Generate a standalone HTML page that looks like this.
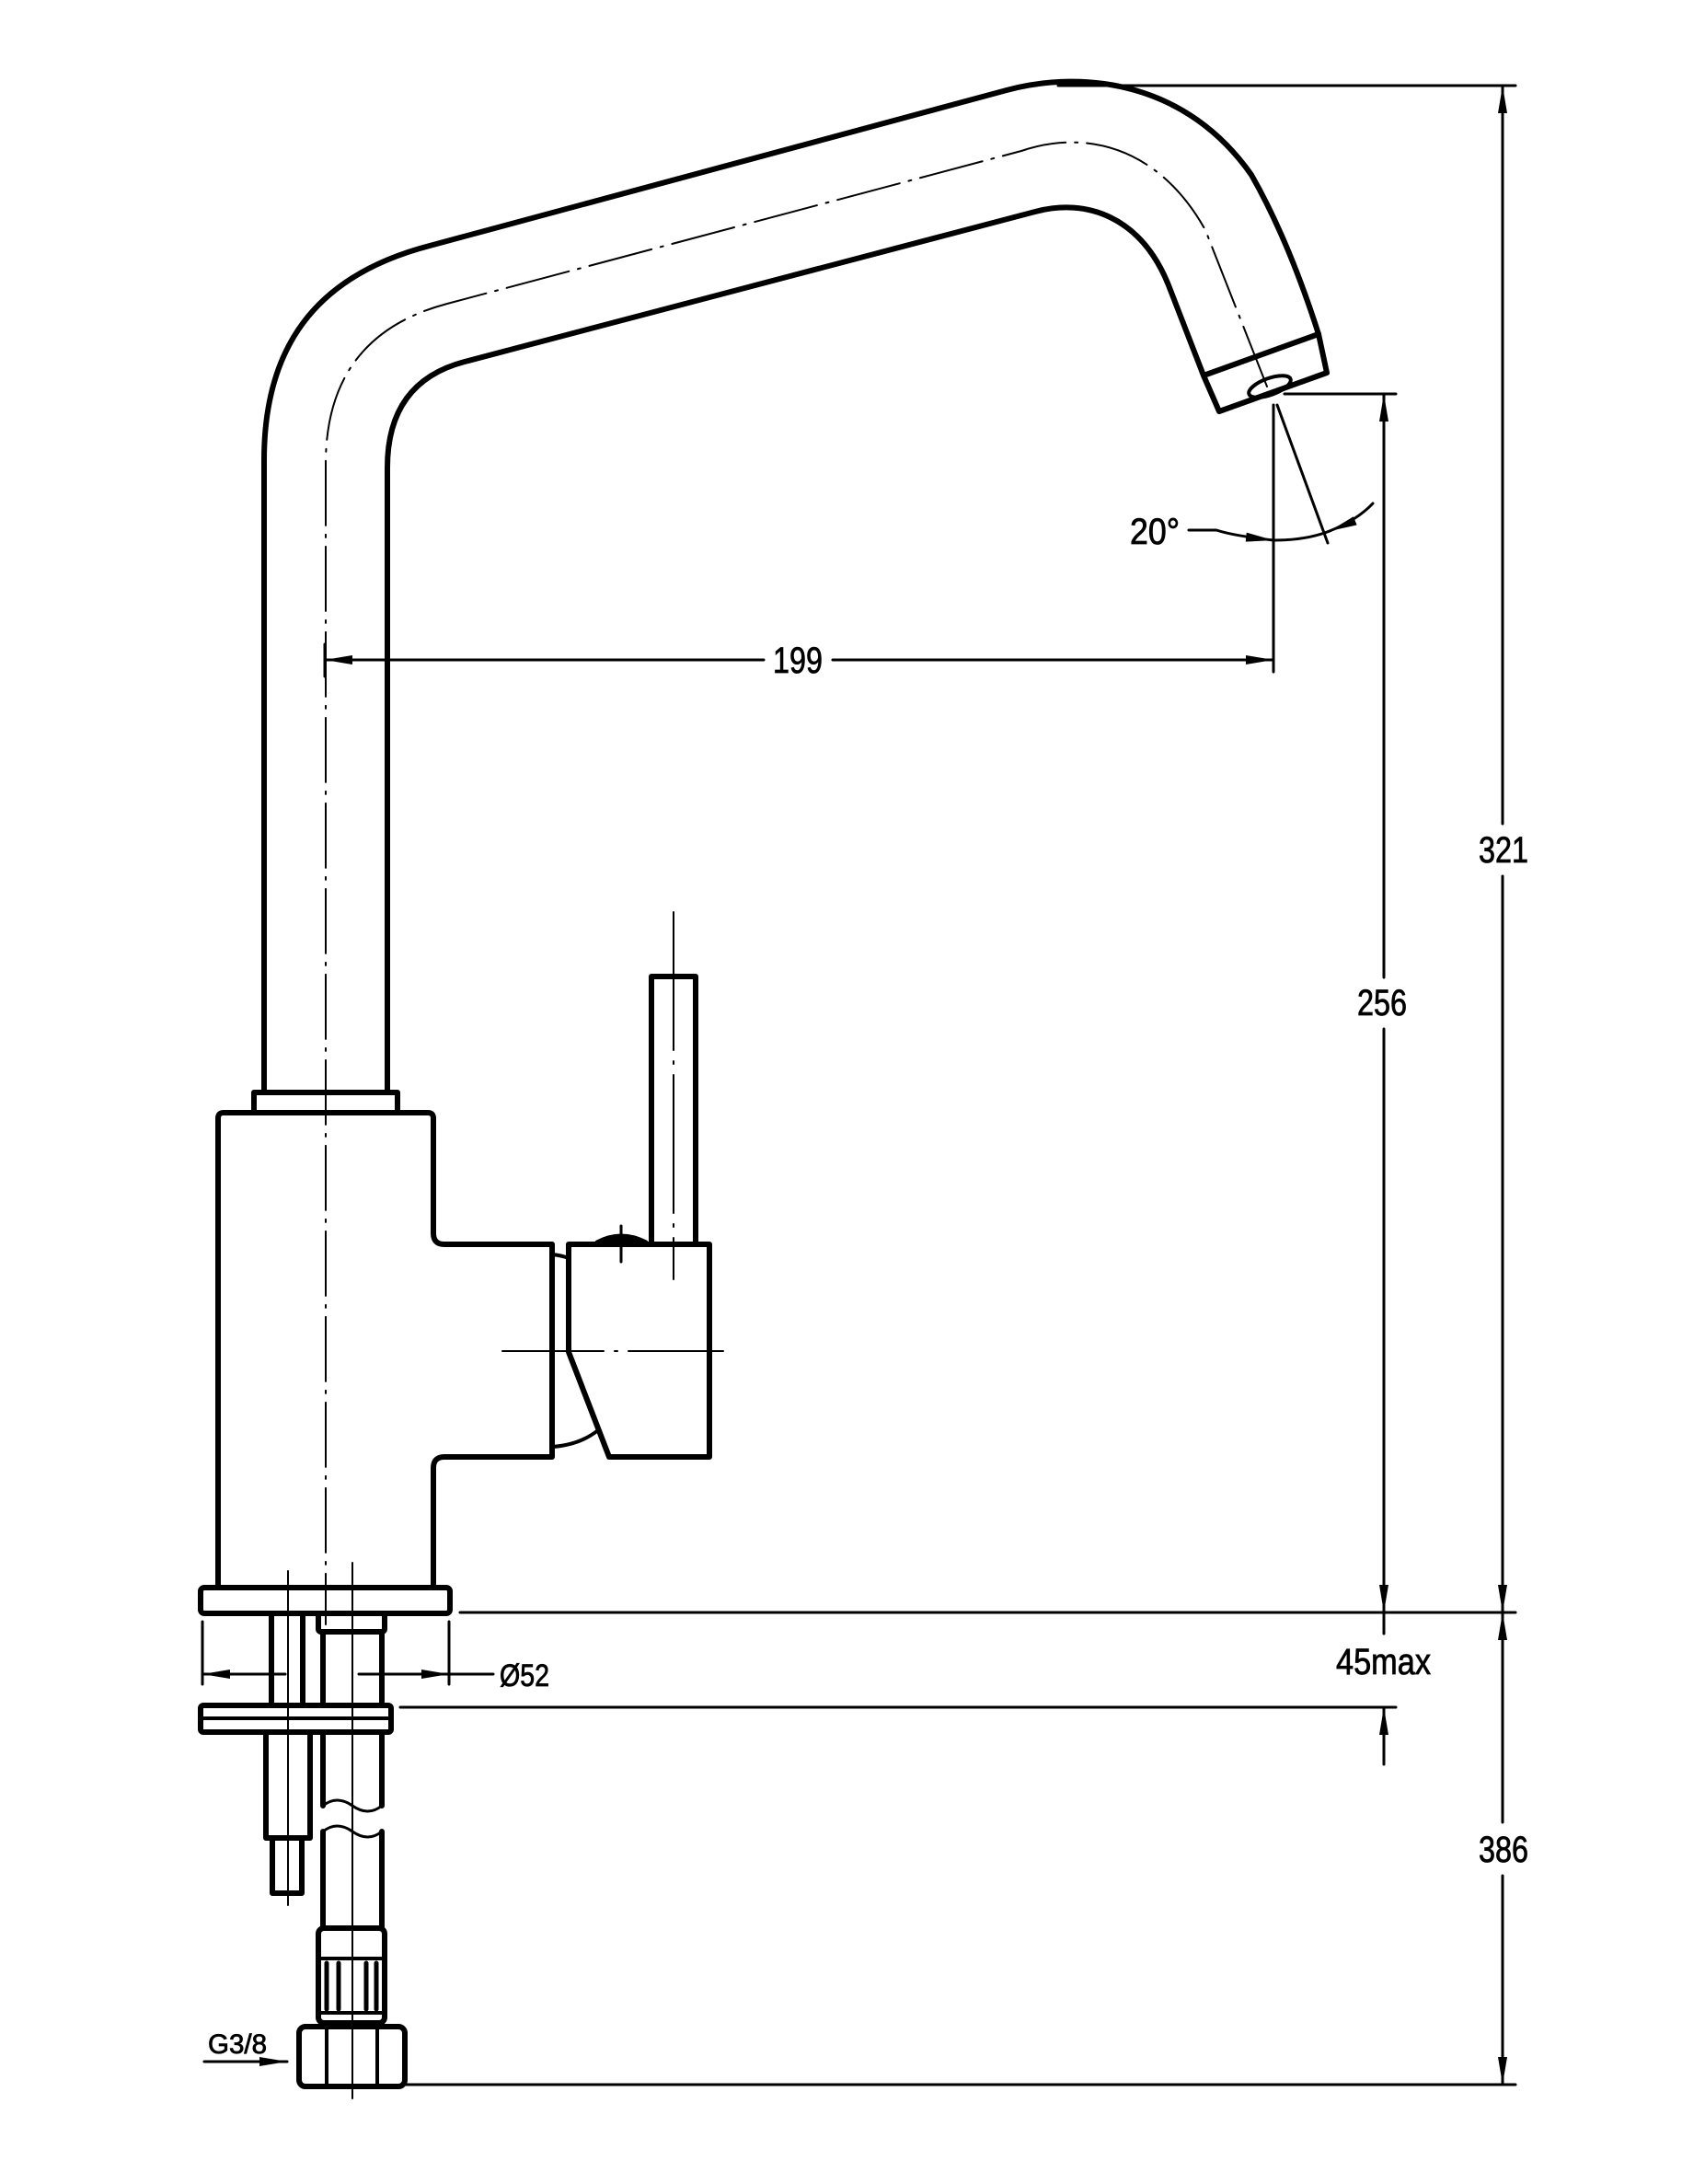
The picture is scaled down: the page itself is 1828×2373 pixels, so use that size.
<!DOCTYPE html>
<html><head><meta charset="utf-8"><style>
html,body{margin:0;padding:0;background:#fff}
svg{display:block}
text{font-family:"Liberation Sans",sans-serif;fill:#000}
</style></head><body>
<svg width="1828" height="2373" viewBox="0 0 1828 2373" xmlns="http://www.w3.org/2000/svg">
<defs>
<marker id="a" viewBox="0 0 30 10" refX="30" refY="5" markerWidth="30" markerHeight="10" markerUnits="userSpaceOnUse" orient="auto-start-reverse">
<path d="M0,0 L30,5 L0,10 Z" fill="#000"/></marker>
</defs>
<g fill="none" stroke="#000" stroke-linejoin="round" stroke-linecap="round">
<path stroke-width="6" d="M287,1187 L287,500 C287,380 340,300 467,267 L1094,98 C1180,75 1290,90 1360,190 Q1400,260 1433,363"/>
<path stroke-width="6" d="M421,1187 L421,508 Q421,415 505,393 L1125,230 C1180,215 1240,235 1270,310 L1308,408"/>
<path stroke-width="6" d="M1308,408 L1433,363 L1442,405 L1325,447 Z"/>
<ellipse cx="1380" cy="420" rx="24" ry="9" transform="rotate(-20 1380 420)" stroke-width="4"/>
<path stroke-width="2" stroke-dasharray="70,10,3,10" d="M1377,420 L1310,250 C1260,160 1180,140 1110,164 L486,330 Q354,365 354,504 L354,1765"/>
<rect x="276" y="1187" width="156" height="22" stroke-width="6"/>
<path stroke-width="6" d="M237,1725 L237,1215 Q237,1209 243,1209 L465,1209 Q471,1209 471,1215 L471,1340 Q471,1352 483,1352 L600,1352 L600,1583 L483,1583 Q471,1583 471,1595 L471,1725"/>
<path stroke-width="4" d="M600,1363 Q610,1364 618,1367"/>
<path stroke-width="4" d="M600,1572 Q630,1570 650,1554"/>
<path stroke-width="6" d="M618,1352 L618,1469 L662,1583 L771,1583 L771,1352 Z"/>
<path stroke-width="5" fill="#000" d="M649,1350 Q675,1336 702,1350 Z"/>
<line x1="675" y1="1332" x2="675" y2="1371" stroke-width="3"/>
<rect x="708" y="1061" width="48" height="291" stroke-width="6"/>
<line x1="732" y1="991" x2="732" y2="1390" stroke-width="2" stroke-dasharray="150,12,3,12"/>
<line x1="546" y1="1468" x2="786" y2="1468" stroke-width="2" stroke-dasharray="110,12,3,12"/>
<rect x="218" y="1725" width="271" height="28" rx="4" stroke-width="6"/>
<rect x="346" y="1753" width="72" height="20" rx="3" stroke-width="6"/>
<rect x="218" y="1853" width="207" height="29" rx="3" stroke-width="6"/>
<line x1="218" y1="1867" x2="425" y2="1867" stroke-width="4"/>
<path stroke-width="6" d="M295,1753 L295,1853 M329,1753 L329,1853"/>
<path stroke-width="6" d="M289,1882 L289,1997 L337,1997 L337,1882"/>
<path stroke-width="6" d="M296,1997 L296,2057 L328,2057 L328,1997"/>
<line x1="313" y1="1707" x2="313" y2="2070" stroke-width="2"/>
<path stroke-width="6" d="M351,1773 L351,1853 M415,1773 L415,1853"/>
<path stroke-width="6" d="M351,1882 L351,1962 M415,1882 L415,1962 M351,1990 L351,2095 M415,1990 L415,2095"/>
<path stroke-width="3" d="M351,1962 Q366,1950 383,1962 Q400,1974 415,1962 M351,1990 Q366,1978 383,1990 Q400,2002 415,1990"/>
<line x1="383" y1="1698" x2="383" y2="2280" stroke-width="2"/>
<rect x="346" y="2095" width="72" height="103" rx="6" stroke-width="6"/>
<line x1="346" y1="2128" x2="418" y2="2128" stroke-width="4"/>
<line x1="346" y1="2187" x2="418" y2="2187" stroke-width="4"/>
<path stroke-width="5" d="M368,2133 L368,2183 M398,2133 L398,2183 M355,2133 L355,2183 M409,2133 L409,2183"/>
<rect x="325" y="2202" width="115" height="65" rx="7" stroke-width="6"/>
<path stroke-width="4" d="M355,2204 L355,2265 M410,2204 L410,2265"/>
<g stroke-width="3">
<line x1="1150" y1="93" x2="1647" y2="93"/>
<line x1="500" y1="1752" x2="1647" y2="1752"/>
<line x1="435" y1="1855" x2="1517" y2="1855"/>
<line x1="440" y1="2265" x2="1647" y2="2265"/>
<line x1="1396" y1="428" x2="1517" y2="428"/>
<line x1="1633" y1="93" x2="1633" y2="895" marker-start="url(#a)"/>
<line x1="1633" y1="952" x2="1633" y2="1752" marker-end="url(#a)"/>
<line x1="1633" y1="1752" x2="1633" y2="1980" marker-start="url(#a)"/>
<line x1="1633" y1="2038" x2="1633" y2="2265" marker-end="url(#a)"/>
<line x1="1504" y1="428" x2="1504" y2="1062" marker-start="url(#a)"/>
<line x1="1504" y1="1118" x2="1504" y2="1752" marker-end="url(#a)"/>
<line x1="1504" y1="1752" x2="1504" y2="1775"/>
<line x1="1504" y1="1917" x2="1504" y2="1855" marker-end="url(#a)"/>
<line x1="1384" y1="440" x2="1384" y2="730"/>
<line x1="1388" y1="440" x2="1443" y2="590"/>
<line x1="353" y1="700" x2="353" y2="735"/>
<line x1="353" y1="717" x2="830" y2="717" marker-start="url(#a)"/>
<line x1="905" y1="717" x2="1384" y2="717" marker-end="url(#a)"/>
<path d="M1384,587 Q1420,587 1445,577" />
<path d="M1492,547 Q1475,565 1445,577" marker-end="url(#a)"/>
<path d="M1292,576 L1322,576 Q1340,582 1384,587" marker-end="url(#a)"/>
<line x1="220" y1="1762" x2="220" y2="1830"/>
<line x1="488" y1="1762" x2="488" y2="1830"/>
<line x1="220" y1="1819" x2="310" y2="1819" marker-start="url(#a)"/>
<line x1="390" y1="1819" x2="488" y2="1819" marker-end="url(#a)"/>
<line x1="488" y1="1819" x2="536" y2="1819"/>
<line x1="222" y1="2240" x2="312" y2="2240" marker-end="url(#a)"/>
</g>
</g>
<g font-size="40" stroke="#000" stroke-width="0.8">
<text x="1634" y="937" text-anchor="middle" textLength="54" lengthAdjust="spacingAndGlyphs">321</text>
<text x="1502" y="1103" text-anchor="middle" textLength="54" lengthAdjust="spacingAndGlyphs">256</text>
<text x="867" y="731" text-anchor="middle" textLength="54" lengthAdjust="spacingAndGlyphs">199</text>
<text x="1634" y="2023" text-anchor="middle" textLength="54" lengthAdjust="spacingAndGlyphs">386</text>
<text x="1228" y="591" textLength="54" lengthAdjust="spacingAndGlyphs">20°</text>
<text x="1452" y="1819" textLength="103" lengthAdjust="spacingAndGlyphs">45max</text>
<text x="543" y="1832" textLength="54" lengthAdjust="spacingAndGlyphs" font-size="34">Ø52</text>
<text x="226" y="2231" textLength="64" lengthAdjust="spacingAndGlyphs" font-size="30">G3/8</text>
</g>
</svg>
</body></html>
